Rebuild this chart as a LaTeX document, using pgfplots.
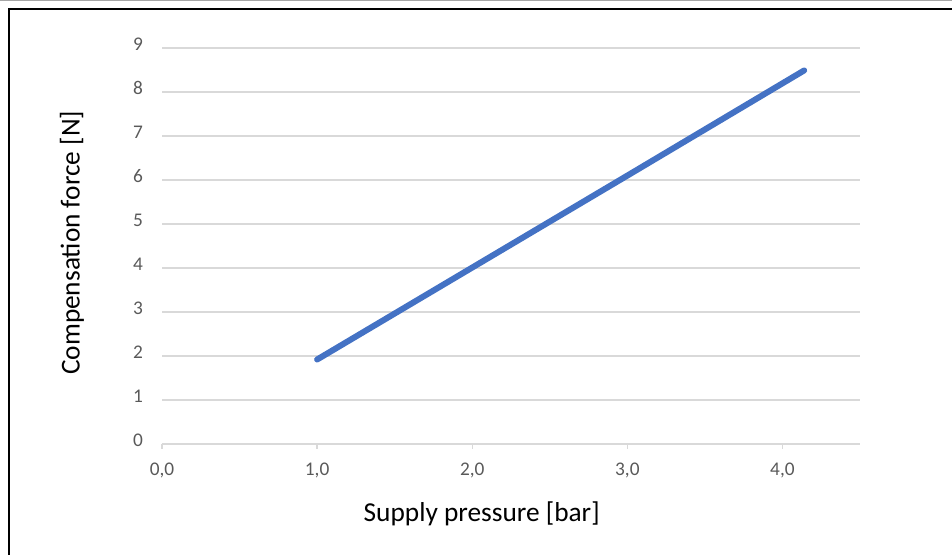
\documentclass[border=0pt]{standalone}
\usepackage{fontspec}
\setmainfont{Carlito}
\usepackage{pgfplots}
\pgfplotsset{compat=1.18}
\definecolor{gridgray}{HTML}{D9D9D9}
\definecolor{ticktext}{HTML}{595959}
\definecolor{series}{HTML}{4472C4}

\begin{document}
\begin{tikzpicture}[x=0.75pt,y=0.75pt]
\useasboundingbox (0,0) rectangle (952,555);
\draw[black!35, line width=0.75pt] (0,554.6) -- (952,554.6);
\draw[black, line width=1pt] (9,-5) -- (9,546) -- (960,546);
\begin{axis}[
  at={(121.5pt,83.25pt)}, anchor=south west,
  width=523.5pt, height=297pt, scale only axis,
  xmin=0, xmax=4.5, ymin=0, ymax=9,
  axis y line*=left,
  y axis line style={draw=none},
  axis x line*=bottom,
  x axis line style={gridgray, line width=1pt, -},
  xtick={0,1,2,3,4},
  xticklabels={{0,0},{1,0},{2,0},{3,0},{4,0}},
  ytick={0,1,...,9},
  ymajorgrids,
  grid style={gridgray, line width=1pt},
  tick align=outside,
  major tick length=3.75pt,
  xtick style={gridgray, line width=1pt},
  ytick style={draw=none},
  /pgf/number format/assume math mode=true,
  tick label style={font=\fontsize{14.5}{16}\selectfont, text=ticktext},
  xticklabel style={anchor=center, yshift=-15.75pt},
  yticklabel style={anchor=east, xshift=-7pt, yshift=3pt},
  xlabel={Supply pressure [bar]},
  ylabel={Compensation force [N]},
  label style={font=\fontsize{20.5}{24}\selectfont, text=black},
  xlabel style={at={(rel axis cs:0.458,-0.177)}, anchor=center},
  ylabel style={at={(rel axis cs:-0.129,0.508)}, anchor=center},
  clip=false,
]
\addplot[series, line width=4.5pt, line cap=round, line join=round] coordinates {
  (1.00,1.92) (2.00,4.01) (3.00,6.10) (4.14,8.49)
};
\end{axis}
\end{tikzpicture}
\end{document}
